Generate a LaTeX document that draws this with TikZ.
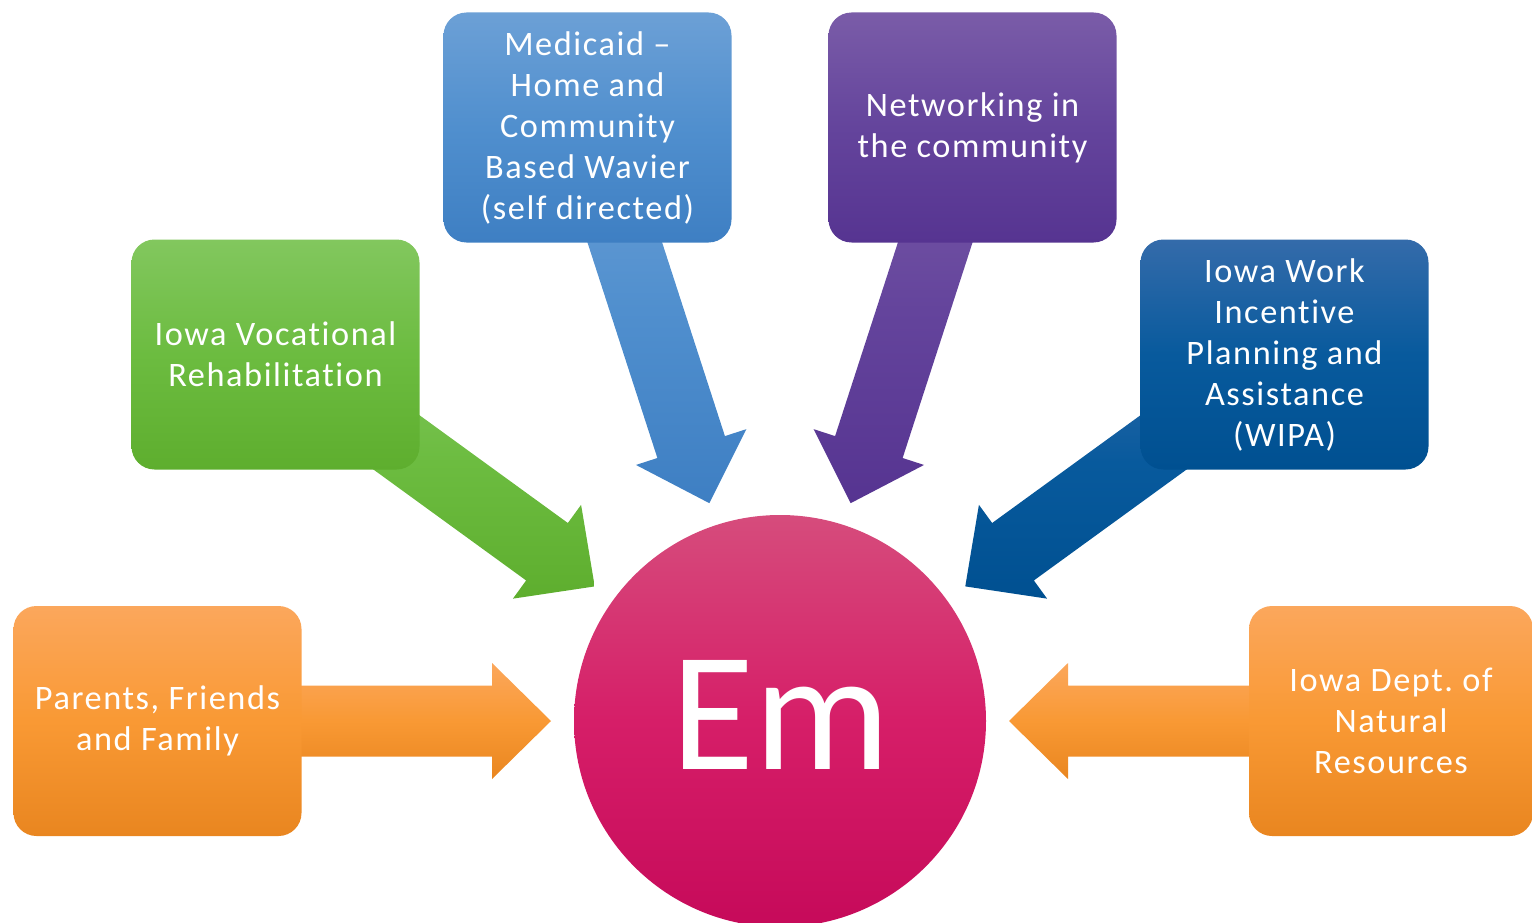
\documentclass[tikz,border=0pt]{standalone}
\usepackage{fontspec}
\setmainfont{Carlito}[Ligatures=CommonOff, LetterSpace=4.6]
\newfontfamily\hubfont{Carlito}
\usetikzlibrary{calc,backgrounds}
\definecolor{orT}{RGB}{251,167,92}
\definecolor{orM}{RGB}{249,153,52}
\definecolor{orB}{RGB}{233,134,32}
\definecolor{grT}{RGB}{130,199,94}
\definecolor{grM}{RGB}{108,188,64}
\definecolor{grB}{RGB}{94,174,46}
\definecolor{blT}{RGB}{108,160,214}
\definecolor{blM}{RGB}{80,143,206}
\definecolor{blB}{RGB}{62,127,195}
\definecolor{puT}{RGB}{122,92,168}
\definecolor{puM}{RGB}{100,68,156}
\definecolor{puB}{RGB}{86,52,145}
\definecolor{nvT}{RGB}{52,107,170}
\definecolor{nvM}{RGB}{8,90,157}
\definecolor{nvB}{RGB}{0,80,145}
\definecolor{mgT}{RGB}{214,76,124}
\definecolor{mgM}{RGB}{214,30,104}
\definecolor{mgB}{RGB}{198,10,90}
\tikzset{
  box/.style={rounded corners=23pt, minimum width=288pt, minimum height=230pt,
    inner sep=0pt, text=white, align=center,
    font=\frenchspacing\fontsize{34.3}{41}\selectfont},
  orangefill/.style={top color=orT, bottom color=orB, middle color=orM},
  greenfill/.style={top color=grT, bottom color=grB, middle color=grM},
  bluefill/.style={top color=blT, bottom color=blB, middle color=blM},
  purplefill/.style={top color=puT, bottom color=puB, middle color=puM},
  navyfill/.style={top color=nvT, bottom color=nvB, middle color=nvM},
  hubfill/.style={top color=mgT, bottom color=mgB, middle color=mgM},
}
% #1 start node, #2 tip coordinate, #3 fill style
\newcommand\blockarrow[3]{%
  \path ($(#2)!59pt!(#1.center)$) coordinate (bah);
  \shade[#3]
    ($(#1.center)!35.5pt!90:(#2)$) -- ($(bah)!35.5pt!90:(#2)$)
    -- ($(bah)!58pt!90:(#2)$) -- (#2)
    -- ($(bah)!58pt!-90:(#2)$) -- ($(bah)!35.5pt!-90:(#2)$)
    -- ($(#1.center)!35.5pt!-90:(#2)$) -- cycle;
}
\begin{document}
\begin{tikzpicture}[x=1pt,y=-1pt]
\useasboundingbox (0,0) rectangle (1532,923);
% hub
\node[circle, minimum size=412pt, inner sep=0pt, hubfill] (em) at (780,721) {};
\node[anchor=base, text=white, inner sep=0pt, font=\hubfont\fontsize{170}{170}\selectfont] (emtext) at (781,769) {Em};
% boxes
\node[box, orangefill] (par) at (157.5,721) {Parents, Friends\\and Family};
\node[box, greenfill] (voc) at (275.5,354.5) {Iowa Vocational\\Rehabilitation};
\node[box, bluefill] (med) at (587.5,127.5) {Medicaid –\\Home and\\Community\\Based Wavier\\(self directed)};
\node[box, purplefill] (net) at (972.5,127.5) {Networking in\\the community};
\node[box, navyfill] (wip) at (1284.5,354.5) {Iowa Work\\Incentive\\Planning and\\Assistance\\(WIPA)};
\node[box, orangefill, minimum width=284pt] (dnr) at (1391,721) {Iowa Dept. of\\Natural\\Resources};
% tips
\coordinate (tpar) at ($(em.center)!229pt!(par.center)$);
\coordinate (tvoc) at ($(em.center)!229pt!(voc.center)$);
\coordinate (tmed) at ($(em.center)!229pt!(med.center)$);
\coordinate (tnet) at ($(em.center)!229pt!(net.center)$);
\coordinate (twip) at ($(em.center)!229pt!(wip.center)$);
\coordinate (tdnr) at ($(em.center)!229pt!(dnr.center)$);
\begin{pgfonlayer}{background}
\blockarrow{par}{tpar}{orangefill}
\blockarrow{voc}{tvoc}{greenfill}
\blockarrow{med}{tmed}{bluefill}
\blockarrow{net}{tnet}{purplefill}
\blockarrow{wip}{twip}{navyfill}
\blockarrow{dnr}{tdnr}{orangefill}
\end{pgfonlayer}
\end{tikzpicture}
\end{document}
